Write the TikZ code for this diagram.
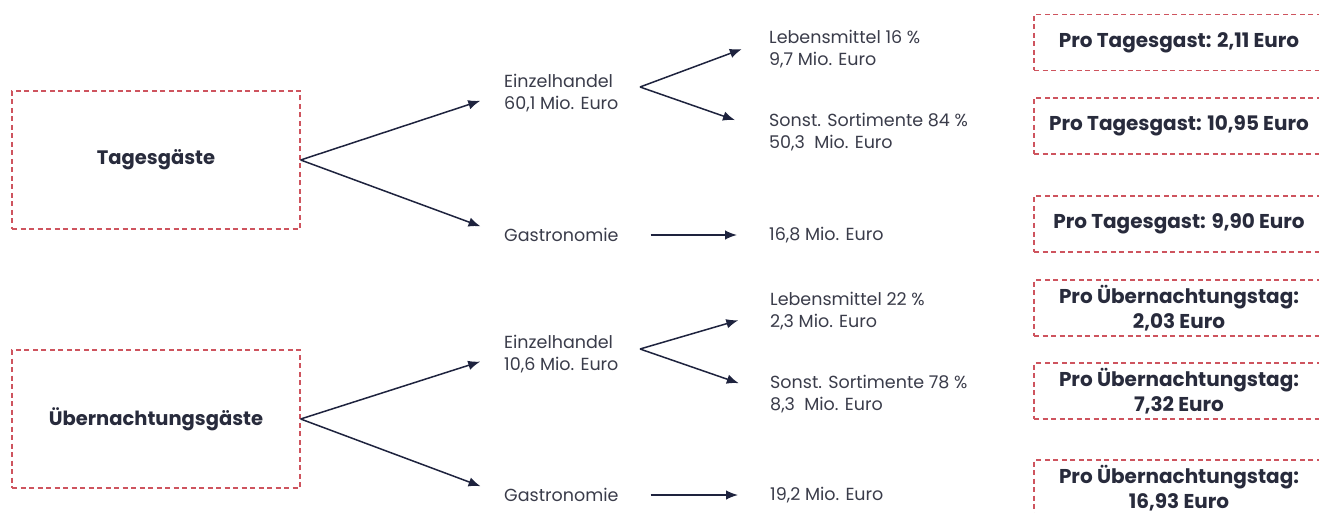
\documentclass[tikz,border=0pt]{standalone}
\usepackage{fontspec}
\setmainfont{Poppins}
\usetikzlibrary{arrows.meta, positioning, calc}
\definecolor{ink}{RGB}{40,43,60}
\definecolor{softink}{RGB}{58,60,74}
\definecolor{arrowink}{RGB}{30,35,62}
\definecolor{dashred}{RGB}{206,84,94}

\begin{document}
\begin{tikzpicture}[x=1pt, y=-1pt,
    >={Latex[length=12pt,width=9.5pt]},
    guestbox/.style={draw=dashred, dash pattern=on 5pt off 3.5pt, line width=1.3pt,
      minimum width=288pt, minimum height=138pt, text=ink,
      font=\fontsize{19.5}{22}\selectfont\bfseries},
    perbox/.style={draw=dashred, dash pattern=on 5pt off 3.5pt, line width=1.3pt,
      minimum width=290pt, minimum height=56pt, align=center, text=ink,
      font=\fontsize{20}{24.5}\selectfont\bfseries},
    amount/.style={anchor=west, align=left, inner sep=0pt, text=softink,
      font=\fontsize{17.5}{22}\selectfont},
    flow/.style={->, draw=arrowink, line width=1.5pt}]
  \fill[white] (0,0) rectangle (1319,513);
  \useasboundingbox (0,0) rectangle (1319,513);

  \node[guestbox] (tg) at (156,160) {Tagesgäste};
  \node[guestbox] (ug) at (156,419) {Übernachtungsgäste};

  \node[amount] (eh1) at (504,93) {Einzelhandel\\60,1 Mio. Euro};
  \node[amount] (ga1) at (504,235) {Gastronomie};
  \node[amount] (lm1) at (769,49) {Lebensmittel 16 \%\\9,7 Mio. Euro};
  \node[amount] (ss1) at (769,132) {Sonst. Sortimente 84 \%\\50,3~~Mio. Euro};
  \node[amount] (gv1) at (769,235) {16,8 Mio. Euro};

  \node[amount] (eh2) at (504,354) {Einzelhandel\\10,6 Mio. Euro};
  \node[amount] (ga2) at (504,495) {Gastronomie};
  \node[amount] (lm2) at (770,311) {Lebensmittel 22 \%\\2,3 Mio. Euro};
  \node[amount] (ss2) at (770,394) {Sonst. Sortimente 78 \%\\8,3~~Mio. Euro};
  \node[amount] (gv2) at (770,495) {19,2 Mio. Euro};

  \node[perbox] (pt1) at (1179,42.5) {Pro Tagesgast: 2,11 Euro};
  \node[perbox] (pt2) at (1179,126) {Pro Tagesgast: 10,95 Euro};
  \node[perbox] (pt3) at (1179,224) {Pro Tagesgast: 9,90 Euro};
  \node[perbox] (pu1) at (1179,308) {Pro Übernachtungstag:\\2,03 Euro};
  \node[perbox] (pu2) at (1179,391) {Pro Übernachtungstag:\\7,32 Euro};
  \node[perbox] (pu3) at (1179,488) {Pro Übernachtungstag:\\16,93 Euro};

  \coordinate (fk1) at (640,87);
  \coordinate (fk2) at (640,349);

  \draw[flow, shorten >=25pt] (tg.east) -- (eh1.west);
  \draw[flow, shorten >=25pt] (tg.east) -- (ga1.west);
  \draw[flow, shorten >=29pt] (fk1) -- ([yshift=10pt]lm1.west);
  \draw[flow, shorten >=36pt] (fk1) -- (ss1.west);
  \draw[flow, shorten <=32pt, shorten >=32pt] (ga1.east) -- (gv1.west);

  \draw[flow, shorten >=25pt] (ug.east) -- (eh2.west);
  \draw[flow, shorten >=25pt] (ug.east) -- (ga2.west);
  \draw[flow, shorten >=33pt] (fk2) -- (lm2.west);
  \draw[flow, shorten >=33pt] (fk2) -- (ss2.west);
  \draw[flow, shorten <=32pt, shorten >=32pt] (ga2.east) -- (gv2.west);
\end{tikzpicture}
\end{document}
